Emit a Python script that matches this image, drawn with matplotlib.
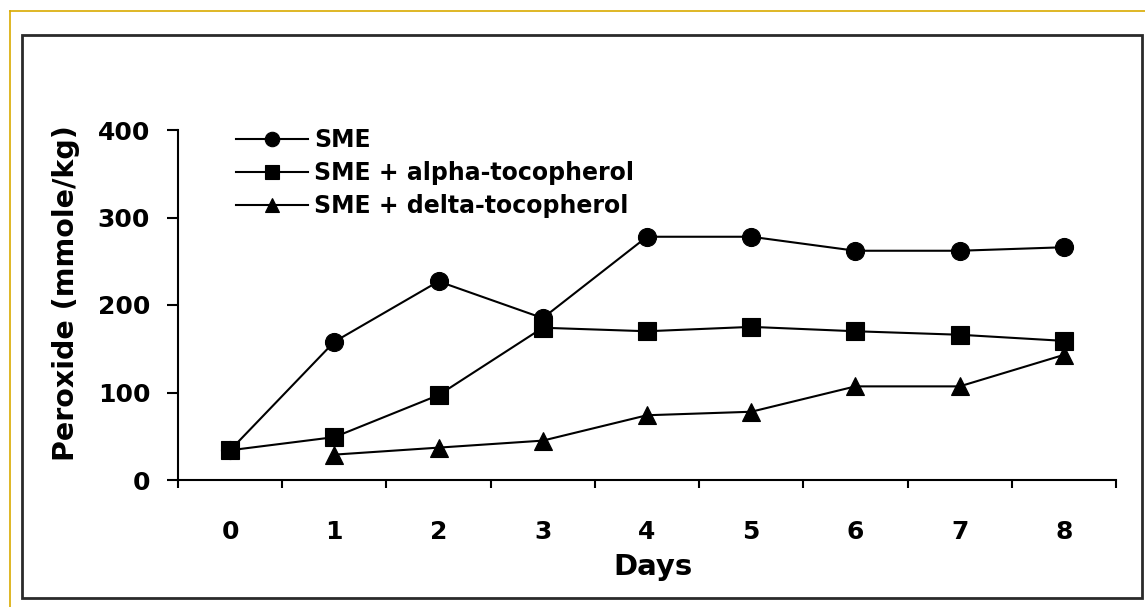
import matplotlib
matplotlib.use("Agg")
import matplotlib.pyplot as plt
from matplotlib.lines import Line2D
from matplotlib.patches import Rectangle

# ---- data ----
days = [0, 1, 2, 3, 4, 5, 6, 7, 8]
sme = [34, 158, 227, 185, 278, 278, 262, 262, 266]
sme_alpha = [34, 49, 97, 174, 170, 175, 170, 166, 159]
delta_days = [1, 2, 3, 4, 5, 6, 7, 8]
sme_delta = [29, 37, 45, 74, 78, 107, 107, 143]
labels = ["SME", "SME + alpha-tocopherol", "SME + delta-tocopherol"]
yticks = [0, 100, 200, 300, 400]

W, H = 1145, 607
plt.rcParams['font.family'] = ['DejaVu Sans']
plt.rcParams['font.weight'] = 'bold'

fig = plt.figure(figsize=(W / 100, H / 100), dpi=100)

def fx(px):
    return px / W

def fy(py):
    return 1 - py / H

# outer decorations
fig.add_artist(Line2D([fx(10), fx(1145)], [fy(11), fy(11)], color='#D9AA00', lw=1.2))
fig.add_artist(Line2D([fx(10), fx(10)], [fy(11), fy(607)], color='#D9AA00', lw=1.2))
fig.add_artist(Rectangle((fx(22), fy(598)), fx(1142) - fx(22), fy(35) - fy(598),
                         fill=False, edgecolor='#2a2a2a', lw=2.0))

ax = fig.add_axes([fx(178), fy(480), fx(1116) - fx(178), fy(130) - fy(480)])
ax.set_xlim(-0.5, 8.5)
ax.set_ylim(0, 400)
for s in ['top', 'right']:
    ax.spines[s].set_visible(False)
for s in ['left', 'bottom']:
    ax.spines[s].set_linewidth(1.5)
    ax.spines[s].set_color('black')

kw = dict(color='black', lw=1.5, markersize=13, markeredgewidth=0.8,
          markerfacecolor='black', markeredgecolor='black', clip_on=False)
l1, = ax.plot(days, sme, marker='o', zorder=3, **kw)
l3, = ax.plot(delta_days, sme_delta, marker='^', zorder=4, **kw)
l2, = ax.plot(days, sme_alpha, marker='s', zorder=5, **kw)

# x ticks at category boundaries, labels at centres
ax.set_xticks([i - 0.5 for i in range(len(days) + 1)])
ax.set_xticklabels([])
ax.set_xticks(days, minor=True)
ax.set_xticklabels([str(d) for d in days], minor=True, fontsize=18, fontweight='bold')
ax.tick_params(axis='x', which='major', direction='out', length=6, width=1.5)
ax.tick_params(axis='x', which='minor', length=0, pad=29)

ax.set_yticks(yticks)
ax.set_yticklabels([str(v) for v in yticks], fontsize=18, fontweight='bold')
ax.tick_params(axis='y', direction='out', length=8, width=1.5, pad=12)

fig.text(fx(653), fy(567), "Days", ha='center', va='center', fontsize=21, fontweight='bold')
fig.text(fx(66), fy(293), "Peroxide (mmole/kg)", ha='center', va='center',
         rotation=90, fontsize=20.5, fontweight='bold')

leg = ax.legend([l1, l2, l3], labels, loc='upper left',
                bbox_to_anchor=(fx(236), fy(128)), bbox_transform=fig.transFigure,
                frameon=False, fontsize=17, handlelength=3.05, handletextpad=0.25,
                labelspacing=0.39, borderpad=0, borderaxespad=0, markerscale=0.8)
for t in leg.get_texts():
    t.set_fontweight('bold')

fig.savefig("out.png", dpi=100)
